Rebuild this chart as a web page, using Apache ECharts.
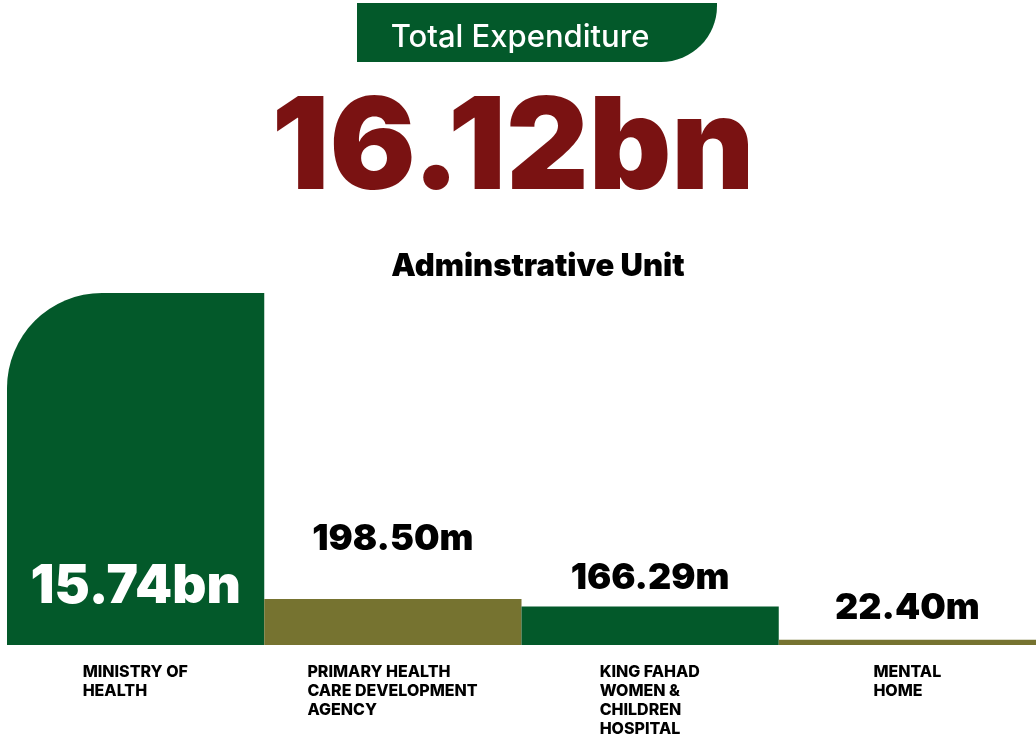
<!DOCTYPE html>
<html>
<head>
<meta charset="utf-8">
<script src="https://cdn.jsdelivr.net/npm/echarts@6/dist/echarts.min.js"></script>
<style>
  * { margin: 0; padding: 0; }
  html, body { width: 1036px; height: 738px; background: #fff; }
  #main { width: 1036px; height: 738px; }
</style>
</head>
<body>
<div id="main"></div>
<script>
// 数据
var units = ['MINISTRY OF\nHEALTH', 'PRIMARY HEALTH\nCARE DEVELOPMENT\nAGENCY', 'KING FAHAD\nWOMEN &\nCHILDREN\nHOSPITAL', 'MENTAL\nHOME']
var spend = [15740, 198.5, 166.29, 22.4] // millions
var spendText = ['15.74bn', '198.50m', '166.29m', '22.40m']
var totalText = '16.12bn'

var GREEN = '#03592a'
var OLIVE = '#767330'
var FONT = 'Inter, "Noto Sans", sans-serif'

// measure widest line of each label so lines sit left aligned in a centered block
var ctx = document.createElement('canvas').getContext('2d')
ctx.font = '800 16px ' + FONT
var rich = {}
units.forEach(function (u, i) {
  var w = 0
  u.split('\n').forEach(function (l) { w = Math.max(w, ctx.measureText(l).width) })
  rich['l' + i] = { width: Math.ceil(w), align: 'left', fontSize: 16, fontWeight: 800, lineHeight: 19, color: '#000', fontFamily: FONT }
})

var chart = echarts.init(document.getElementById('main'))

var barColors = [GREEN, OLIVE, GREEN, OLIVE]
var labelDist = [0, 42, 10, 14]

var option = {
  animation: false,
  title: [
    {
      text: 'Total Expenditure',
      left: 515, top: 17, textAlign: 'center',
      textStyle: { color: '#fff', fontSize: 31, fontWeight: 500, fontFamily: FONT }
    },
    {
      text: totalText,
      left: 508, top: 82, textAlign: 'center',
      textStyle: { color: '#7a1212', fontSize: 128, fontWeight: 900, fontFamily: FONT, letterSpacing: -5 }
    },
    {
      text: 'Adminstrative Unit',
      left: 533, top: 246, textAlign: 'center',
      textStyle: { color: '#000', fontSize: 31, fontWeight: 900, fontFamily: FONT }
    }
  ],
  graphic: [
    {
      type: 'rect', z: -1,
      shape: { x: 357, y: 3, width: 360, height: 59, r: [0, 0, 56, 0] },
      style: { fill: GREEN }
    }
  ],
  grid: { left: 7, right: 0, top: 293, bottom: 93 },
  xAxis: {
    type: 'category',
    data: units,
    axisLine: { show: false },
    axisTick: { show: false },
    axisLabel: {
      margin: 18,
      interval: 0,
      formatter: function (v, i) {
        return v.split('\n').map(function (l) { return '{l' + i + '|' + l + '}' }).join('\n')
      },
      rich: rich
    }
  },
  yAxis: {
    type: 'value',
    min: 0,
    max: 15740,
    show: false,
    splitLine: { show: false },
    breaks: [{ start: 1000, end: 15221, gap: 0 }],
    breakArea: { show: false }
  },
  series: [
    {
      type: 'bar',
      barCategoryGap: 0,
      data: spend.map(function (v, i) {
        var item = {
          value: v,
          itemStyle: { color: barColors[i] },
          label: { distance: labelDist[i] }
        }
        if (i === 0) {
          item.itemStyle.borderRadius = [95, 0, 0, 0]
          item.label = {
            position: 'insideBottom', distance: 31,
            color: '#fff', fontSize: 53, letterSpacing: -1
          }
        }
        return item
      }),
      label: {
        show: true,
        position: 'top',
        color: '#000',
        fontSize: 36,
        fontWeight: 900,
        fontFamily: FONT,
        formatter: function (p) { return spendText[p.dataIndex] }
      }
    }
  ]
}

chart.setOption(option)
</script>
</body>
</html>
